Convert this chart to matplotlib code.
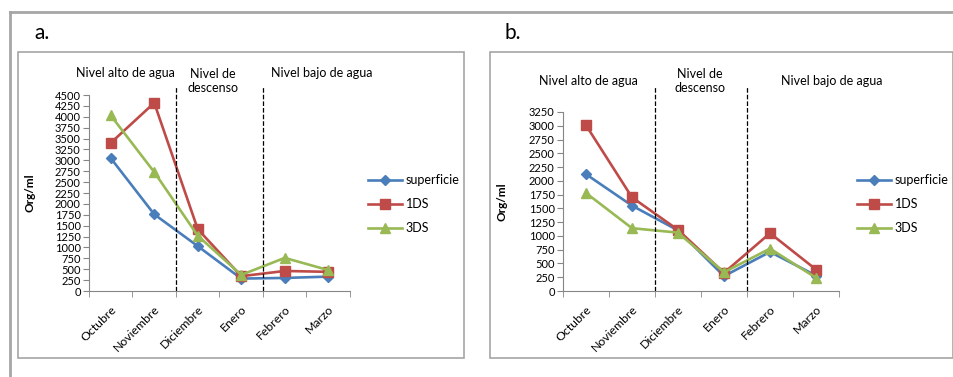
import matplotlib.pyplot as plt
from matplotlib.patches import Rectangle
from matplotlib.lines import Line2D

months = ["Octubre", "Noviembre", "Diciembre", "Enero", "Febrero", "Marzo"]
series_names = ["superficie", "1DS", "3DS"]

a_superficie = [3050, 1760, 1030, 285, 300, 330]
a_1ds = [3400, 4320, 1420, 340, 460, 440]
a_3ds = [4030, 2730, 1270, 370, 760, 480]

b_superficie = [2120, 1550, 1100, 270, 710, 280]
b_1ds = [3010, 1700, 1110, 330, 1050, 390]
b_3ds = [1780, 1140, 1060, 340, 770, 240]

a_ticks = list(range(0, 4501, 250))
b_ticks = list(range(0, 3251, 250))

plt.rcParams["font.family"] = ["Lato", "DejaVu Sans"]

W, H = 954, 377
fig = plt.figure(figsize=(W / 100, H / 100), dpi=100)

colors = ["#4a7ebb", "#be4b48", "#98b954"]
markers = ["D", "s", "^"]
msizes = [5, 7, 7]


def px_axes(x0, y_top, x1, y_bot):
    return fig.add_axes([x0 / W, 1 - y_bot / H, (x1 - x0) / W, (y_bot - y_top) / H])


def fig_text(x, y, s, **kw):
    fig.text(x / W, 1 - y / H, s, **kw)


# outer frame and panel boxes
fig.add_artist(Line2D([10 / W, 1], [1 - 12 / H] * 2, color="#a6a6a6", lw=2))
fig.add_artist(Line2D([10 / W] * 2, [0, 1 - 12 / H], color="#a6a6a6", lw=2))
for x0, x1 in [(18, 464), (490, 953)]:
    fig.add_artist(Rectangle((x0 / W, 1 - 358 / H), (x1 - x0) / W, (358 - 52) / H,
                             fill=False, edgecolor="#a6a6a6", lw=1.2,
                             transform=fig.transFigure))


def panel(ax, data, ticks, ymax, dash_top_frac, ylab_x, leg_x, heads):
    for vals, name, c, m, ms in zip(data, series_names, colors, markers, msizes):
        ax.plot(range(len(months)), vals, color=c, marker=m, ms=ms, lw=1.9,
                label=name)
    ax.set_xlim(-0.5, len(months) - 0.5)
    ax.set_ylim(0, ymax)
    ax.set_yticks(ticks)
    ax.set_yticklabels([str(t) for t in ticks], fontsize=8)
    ax.set_xticks(range(len(months)))
    ax.set_xticklabels(months, rotation=45, ha="right", rotation_mode="anchor",
                       fontsize=8.8)
    ax.set_xticks([i - 0.5 for i in range(len(months) + 1)], minor=True)
    ax.tick_params(axis="x", which="major", length=0, pad=9)
    ax.tick_params(axis="x", which="minor", length=4, color="#868686")
    ax.tick_params(axis="y", length=4, color="#868686", pad=2)
    for s in ["top", "right"]:
        ax.spines[s].set_visible(False)
    for s in ["left", "bottom"]:
        ax.spines[s].set_color("#868686")
    for xv in [1.5, 3.5]:
        ax.axvline(xv, ymin=0, ymax=dash_top_frac, color="black", ls="--",
                   lw=0.9, clip_on=False)
    ax.set_ylabel("Org/ml", fontsize=8.5, fontweight="bold")
    ax.yaxis.set_label_coords(ylab_x, 0.5)
    ax.legend(loc="center left", bbox_to_anchor=(leg_x / W, 1 - 204 / H),
              bbox_transform=fig.transFigure, frameon=False, borderaxespad=0,
              borderpad=0, fontsize=9, handlelength=2.7, labelspacing=0.95,
              handletextpad=0.3)
    for hx, hy, txt in heads:
        fig_text(hx, hy, txt, ha="center", va="center", fontsize=9,
                 linespacing=1.25)


ax_a = px_axes(89, 95, 350, 291)
panel(ax_a, [a_superficie, a_1ds, a_3ds], a_ticks, 4500, (291 - 86) / 196,
      -0.205, 368,
      [(125, 73, "Nivel alto de agua"), (213, 81, "Nivel de\ndescenso"),
       (322, 73, "Nivel bajo de agua")])
fig_text(34, 33, "a.", fontsize=15, va="center")

ax_b = px_axes(563, 112, 839, 291)
panel(ax_b, [b_superficie, b_1ds, b_3ds], b_ticks, 3250, (291 - 86) / 179,
      -0.2, 857,
      [(588, 81, "Nivel alto de agua"), (700, 81, "Nivel de\ndescenso"),
       (832, 81, "Nivel bajo de agua")])
fig_text(505, 33, "b.", fontsize=15, va="center")

fig.savefig("out.png", dpi=100)
